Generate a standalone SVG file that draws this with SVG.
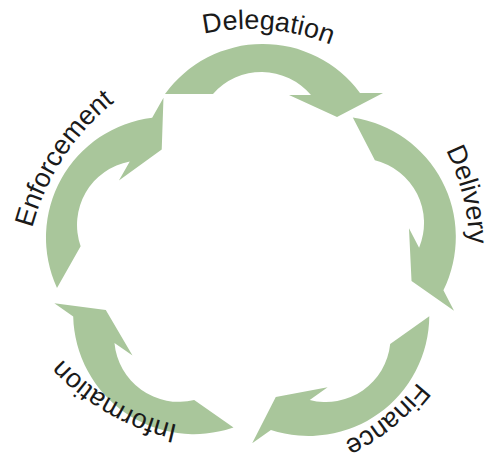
<svg xmlns="http://www.w3.org/2000/svg" width="492" height="463" viewBox="0 0 492 463">
  <style>
    .arrow { fill: #a9c69b; }
    .label { font-family: "Liberation Sans", Arial, sans-serif; font-size: 27px; fill: #1a1a1a; }
  </style>
  <defs>
    <!-- One curved arrow: tail cut at the origin, crescent body, flat arrowhead -->
    <path id="arrow-shape" d="M0,0 L48,0 A64.6,64.6 0 0 1 146,1 L124,1 L172,23 L218,-1 L195,-1 A120.7,120.7 0 0 0 0,0 Z"/>
    <!-- Clockwise baseline arcs for the stage labels -->
    <path id="arc-delegation" d="M36.5,192.1 A220,220 0 0 1 468.2,229.8"/>
    <path id="arc-delivery" d="M233.7,29.5 A220,220 0 0 1 338.5,450"/>
    <path id="arc-finance" d="M437,144.8 A215,215 0 0 1 107.9,411.3"/>
    <path id="arc-information" d="M399.4,348.4 A225,225 0 0 1 14,129.5"/>
    <path id="arc-enforcement" d="M99.8,464.7 A240,240 0 0 1 358.6,69.1"/>
  </defs>

  <g id="connectors" class="arrow">
    <use href="#arrow-shape" transform="translate(165,94)"/>
    <use href="#arrow-shape" transform="translate(352.8,117.6) rotate(62.6)"/>
    <use href="#arrow-shape" transform="translate(429.3,316.2) rotate(144.6)"/>
    <use href="#arrow-shape" transform="translate(233.5,427.5) rotate(215)"/>
    <use href="#arrow-shape" transform="translate(57,288) rotate(299.5)"/>
  </g>

  <g id="node-delegation">
    <text class="label" text-anchor="middle"><textPath href="#arc-delegation" startOffset="50%">Delegation</textPath></text>
  </g>
  <g id="node-delivery">
    <text class="label" text-anchor="middle"><textPath href="#arc-delivery" startOffset="50%">Delivery</textPath></text>
  </g>
  <g id="node-finance">
    <text class="label" text-anchor="middle"><textPath href="#arc-finance" startOffset="50%">Finance</textPath></text>
  </g>
  <g id="node-information">
    <text class="label" text-anchor="middle"><textPath href="#arc-information" startOffset="50%">Information</textPath></text>
  </g>
  <g id="node-enforcement">
    <text class="label" text-anchor="middle"><textPath href="#arc-enforcement" startOffset="50%">Enforcement</textPath></text>
  </g>
</svg>
